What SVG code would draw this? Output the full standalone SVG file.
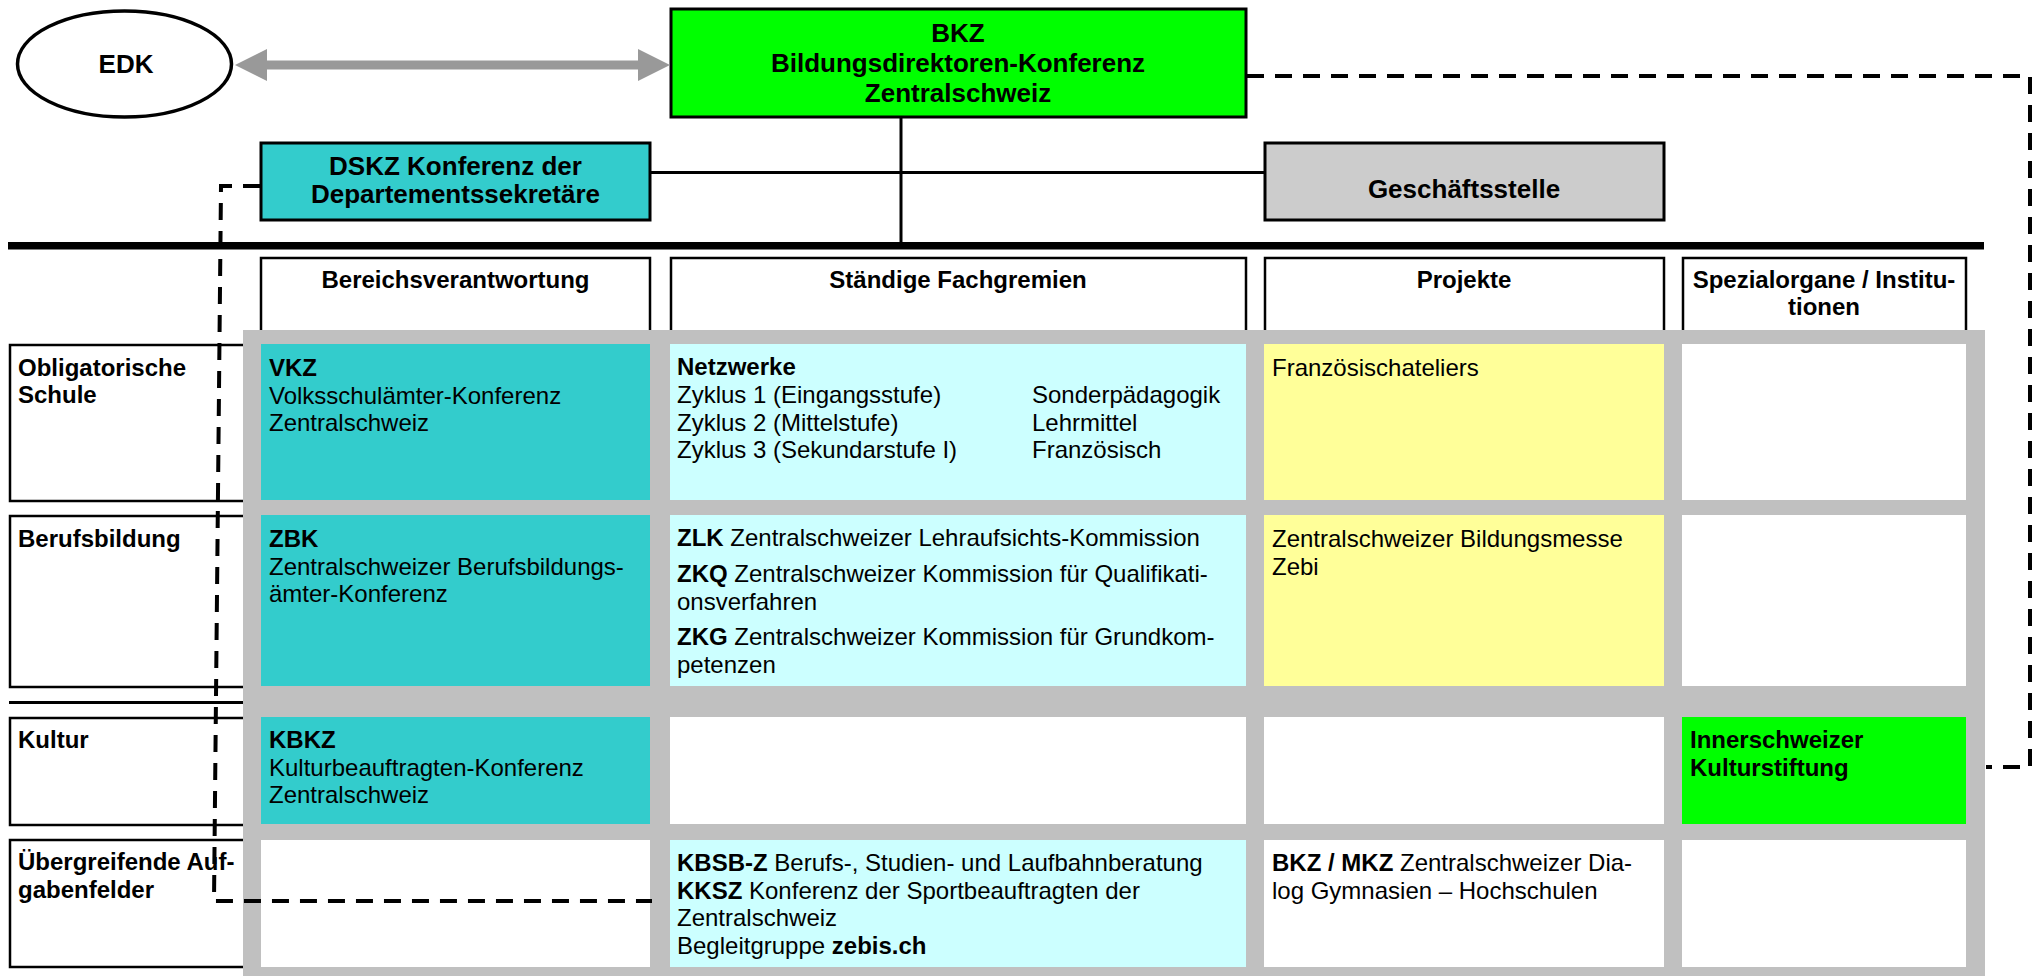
<svg xmlns="http://www.w3.org/2000/svg" width="2033" height="976" viewBox="0 0 2033 976">
<style>
text{font-family:"Liberation Sans",Arial,sans-serif;fill:#000}
.t{font-size:26px;font-weight:bold;text-anchor:middle}
.h{font-size:24px;font-weight:bold;text-anchor:middle}
.l{font-size:24px;font-weight:bold}
.c{font-size:24px}
.b{font-weight:bold}
.box{stroke:#000;stroke-width:3}
.hb{fill:#fff;stroke:#000;stroke-width:2.5}
.teal{fill:#33CCCC}
.cyan{fill:#CCFFFF}
.yel{fill:#FFFF99}
.wh{fill:#fff}
.grn{fill:#00FF00}
.dash{fill:none;stroke:#000;stroke-width:4;stroke-dasharray:17 11}
.solid{fill:none;stroke:#000;stroke-width:3}
</style>
<defs>
<marker id="ah" markerUnits="userSpaceOnUse" markerWidth="34" markerHeight="34" refX="0" refY="16" orient="auto-start-reverse" viewBox="0 0 34 32">
<path d="M0,0 L32,16 L0,32 z" fill="#999999"/>
</marker>
</defs>
<rect width="2033" height="976" fill="#fff"/>

<!-- left row labels -->
<g id="row-labels">
<rect class="hb" x="10" y="345" width="240" height="156" stroke-width="3"/>
<rect class="hb" x="10" y="516" width="240" height="171" stroke-width="3"/>
<line x1="9" y1="702.5" x2="250" y2="702.5" stroke="#000" stroke-width="3"/>
<rect class="hb" x="10" y="718" width="240" height="107" stroke-width="3"/>
<rect class="hb" x="10" y="840" width="240" height="127" stroke-width="3"/>
</g>

<!-- column heading boxes -->
<g id="col-headings">
<rect class="hb" x="261" y="258" width="389" height="90"/>
<rect class="hb" x="671" y="258" width="575" height="90"/>
<rect class="hb" x="1265" y="258" width="399" height="90"/>
<rect class="hb" x="1683" y="258" width="283" height="90"/>
<text class="h" x="455.5" y="288">Bereichsverantwortung</text>
<text class="h" x="958" y="288">Ständige Fachgremien</text>
<text class="h" x="1464" y="288">Projekte</text>
<text class="h" x="1824" y="288">Spezialorgane / Institu-</text>
<text class="h" x="1824" y="315">tionen</text>
</g>

<!-- gray matrix background -->
<rect id="matrix-bg" x="243" y="330" width="1742" height="646" fill="#C0C0C0"/>

<!-- matrix cells -->
<g id="cells">
<rect class="teal" x="261" y="344" width="389" height="156"/>
<rect class="cyan" x="670" y="344" width="576" height="156"/>
<rect class="yel" x="1264" y="344" width="400" height="156"/>
<rect class="wh" x="1682" y="344" width="284" height="156"/>

<rect class="teal" x="261" y="515" width="389" height="171"/>
<rect class="cyan" x="670" y="515" width="576" height="171"/>
<rect class="yel" x="1264" y="515" width="400" height="171"/>
<rect class="wh" x="1682" y="515" width="284" height="171"/>

<rect class="teal" x="261" y="717" width="389" height="107"/>
<rect class="wh" x="670" y="717" width="576" height="107"/>
<rect class="wh" x="1264" y="717" width="400" height="107"/>
<rect class="grn" x="1682" y="717" width="284" height="107"/>

<rect class="wh" x="261" y="840" width="389" height="127"/>
<rect class="cyan" x="670" y="840" width="576" height="127"/>
<rect class="wh" x="1264" y="840" width="400" height="127"/>
<rect class="wh" x="1682" y="840" width="284" height="127"/>
</g>

<!-- top nodes -->
<g id="EDK">
<ellipse cx="124.5" cy="64" rx="107" ry="53" fill="#fff" stroke="#000" stroke-width="3.5"/>
<text class="t" x="126" y="73">EDK</text>
</g>
<g id="BKZ">
<rect class="box grn" x="671" y="9" width="575" height="108"/>
<text class="t" x="958" y="42">BKZ</text>
<text class="t" x="958" y="72">Bildungsdirektoren-Konferenz</text>
<text class="t" x="958" y="102">Zentralschweiz</text>
</g>
<g id="DSKZ">
<rect class="box teal" x="261" y="143" width="389" height="77"/>
<text class="t" x="455.5" y="175">DSKZ Konferenz der</text>
<text class="t" x="455.5" y="203">Departementssekretäre</text>
</g>
<g id="Geschaeftsstelle">
<rect class="box" fill="#CCCCCC" x="1265" y="143" width="399" height="77"/>
<text class="t" x="1464" y="198">Geschäftsstelle</text>
</g>

<!-- row label texts -->
<g id="row-label-texts">
<text class="l" x="18" y="376">Obligatorische</text>
<text class="l" x="18" y="403">Schule</text>
<text class="l" x="18" y="547">Berufsbildung</text>
<text class="l" x="18" y="748">Kultur</text>
<text class="l" x="18" y="870">Übergreifende Auf-</text>
<text class="l" x="18" y="897.5">gabenfelder</text>
</g>

<!-- cell texts -->
<g id="VKZ">
<text class="c b" x="269" y="376">VKZ</text>
<text class="c" x="269" y="403.5">Volksschulämter-Konferenz</text>
<text class="c" x="269" y="431">Zentralschweiz</text>
</g>
<g id="Netzwerke">
<text class="c b" x="677" y="375">Netzwerke</text>
<text class="c" x="677" y="403">Zyklus 1 (Eingangsstufe)</text>
<text class="c" x="677" y="430.5">Zyklus 2 (Mittelstufe)</text>
<text class="c" x="677" y="458">Zyklus 3 (Sekundarstufe I)</text>
<text class="c" x="1032" y="403">Sonderpädagogik</text>
<text class="c" x="1032" y="430.5">Lehrmittel</text>
<text class="c" x="1032" y="458">Französisch</text>
</g>
<g id="Franzoesischateliers">
<text class="c" x="1272" y="376">Französischateliers</text>
</g>
<g id="ZBK">
<text class="c b" x="269" y="547">ZBK</text>
<text class="c" x="269" y="574.5">Zentralschweizer Berufsbildungs-</text>
<text class="c" x="269" y="602">ämter-Konferenz</text>
</g>
<g id="ZLK-ZKQ-ZKG">
<text class="c" x="677" y="546"><tspan class="b">ZLK</tspan> Zentralschweizer Lehraufsichts-Kommission</text>
<text class="c" x="677" y="582"><tspan class="b">ZKQ</tspan> Zentralschweizer Kommission für Qualifikati-</text>
<text class="c" x="677" y="609.5">onsverfahren</text>
<text class="c" x="677" y="645"><tspan class="b">ZKG</tspan> Zentralschweizer Kommission für Grundkom-</text>
<text class="c" x="677" y="672.5">petenzen</text>
</g>
<g id="Bildungsmesse">
<text class="c" x="1272" y="547">Zentralschweizer Bildungsmesse</text>
<text class="c" x="1272" y="574.5">Zebi</text>
</g>
<g id="KBKZ">
<text class="c b" x="269" y="748">KBKZ</text>
<text class="c" x="269" y="775.5">Kulturbeauftragten-Konferenz</text>
<text class="c" x="269" y="803">Zentralschweiz</text>
</g>
<g id="Kulturstiftung">
<text class="c b" x="1690" y="748">Innerschweizer</text>
<text class="c b" x="1690" y="775.5">Kulturstiftung</text>
</g>
<g id="KBSB-KKSZ">
<text class="c" x="677" y="871"><tspan class="b">KBSB-Z</tspan> Berufs-, Studien- und Laufbahnberatung</text>
<text class="c" x="677" y="898.5"><tspan class="b">KKSZ</tspan> Konferenz der Sportbeauftragten der</text>
<text class="c" x="677" y="926">Zentralschweiz</text>
<text class="c" x="677" y="953.5">Begleitgruppe <tspan class="b">zebis.ch</tspan></text>
</g>
<g id="Dialog">
<text class="c" x="1272" y="871"><tspan class="b">BKZ / MKZ</tspan> Zentralschweizer Dia-</text>
<text class="c" x="1272" y="898.5">log Gymnasien – Hochschulen</text>
</g>

<!-- connectors -->
<g id="connectors">
<line x1="267" y1="65" x2="638" y2="65" stroke="#999999" stroke-width="9" marker-start="url(#ah)" marker-end="url(#ah)"/>
<line x1="901" y1="117" x2="901" y2="244" class="solid"/>
<line x1="650" y1="172.5" x2="1265" y2="172.5" class="solid"/>
<line x1="8" y1="245.7" x2="1984" y2="245.7" stroke="#000" stroke-width="7.5"/>
<path class="dash" d="M1247,76 H2030 V767 H1986"/>
<path class="dash" d="M260,186 H221 L214,901 H652"/>
</g>
</svg>
